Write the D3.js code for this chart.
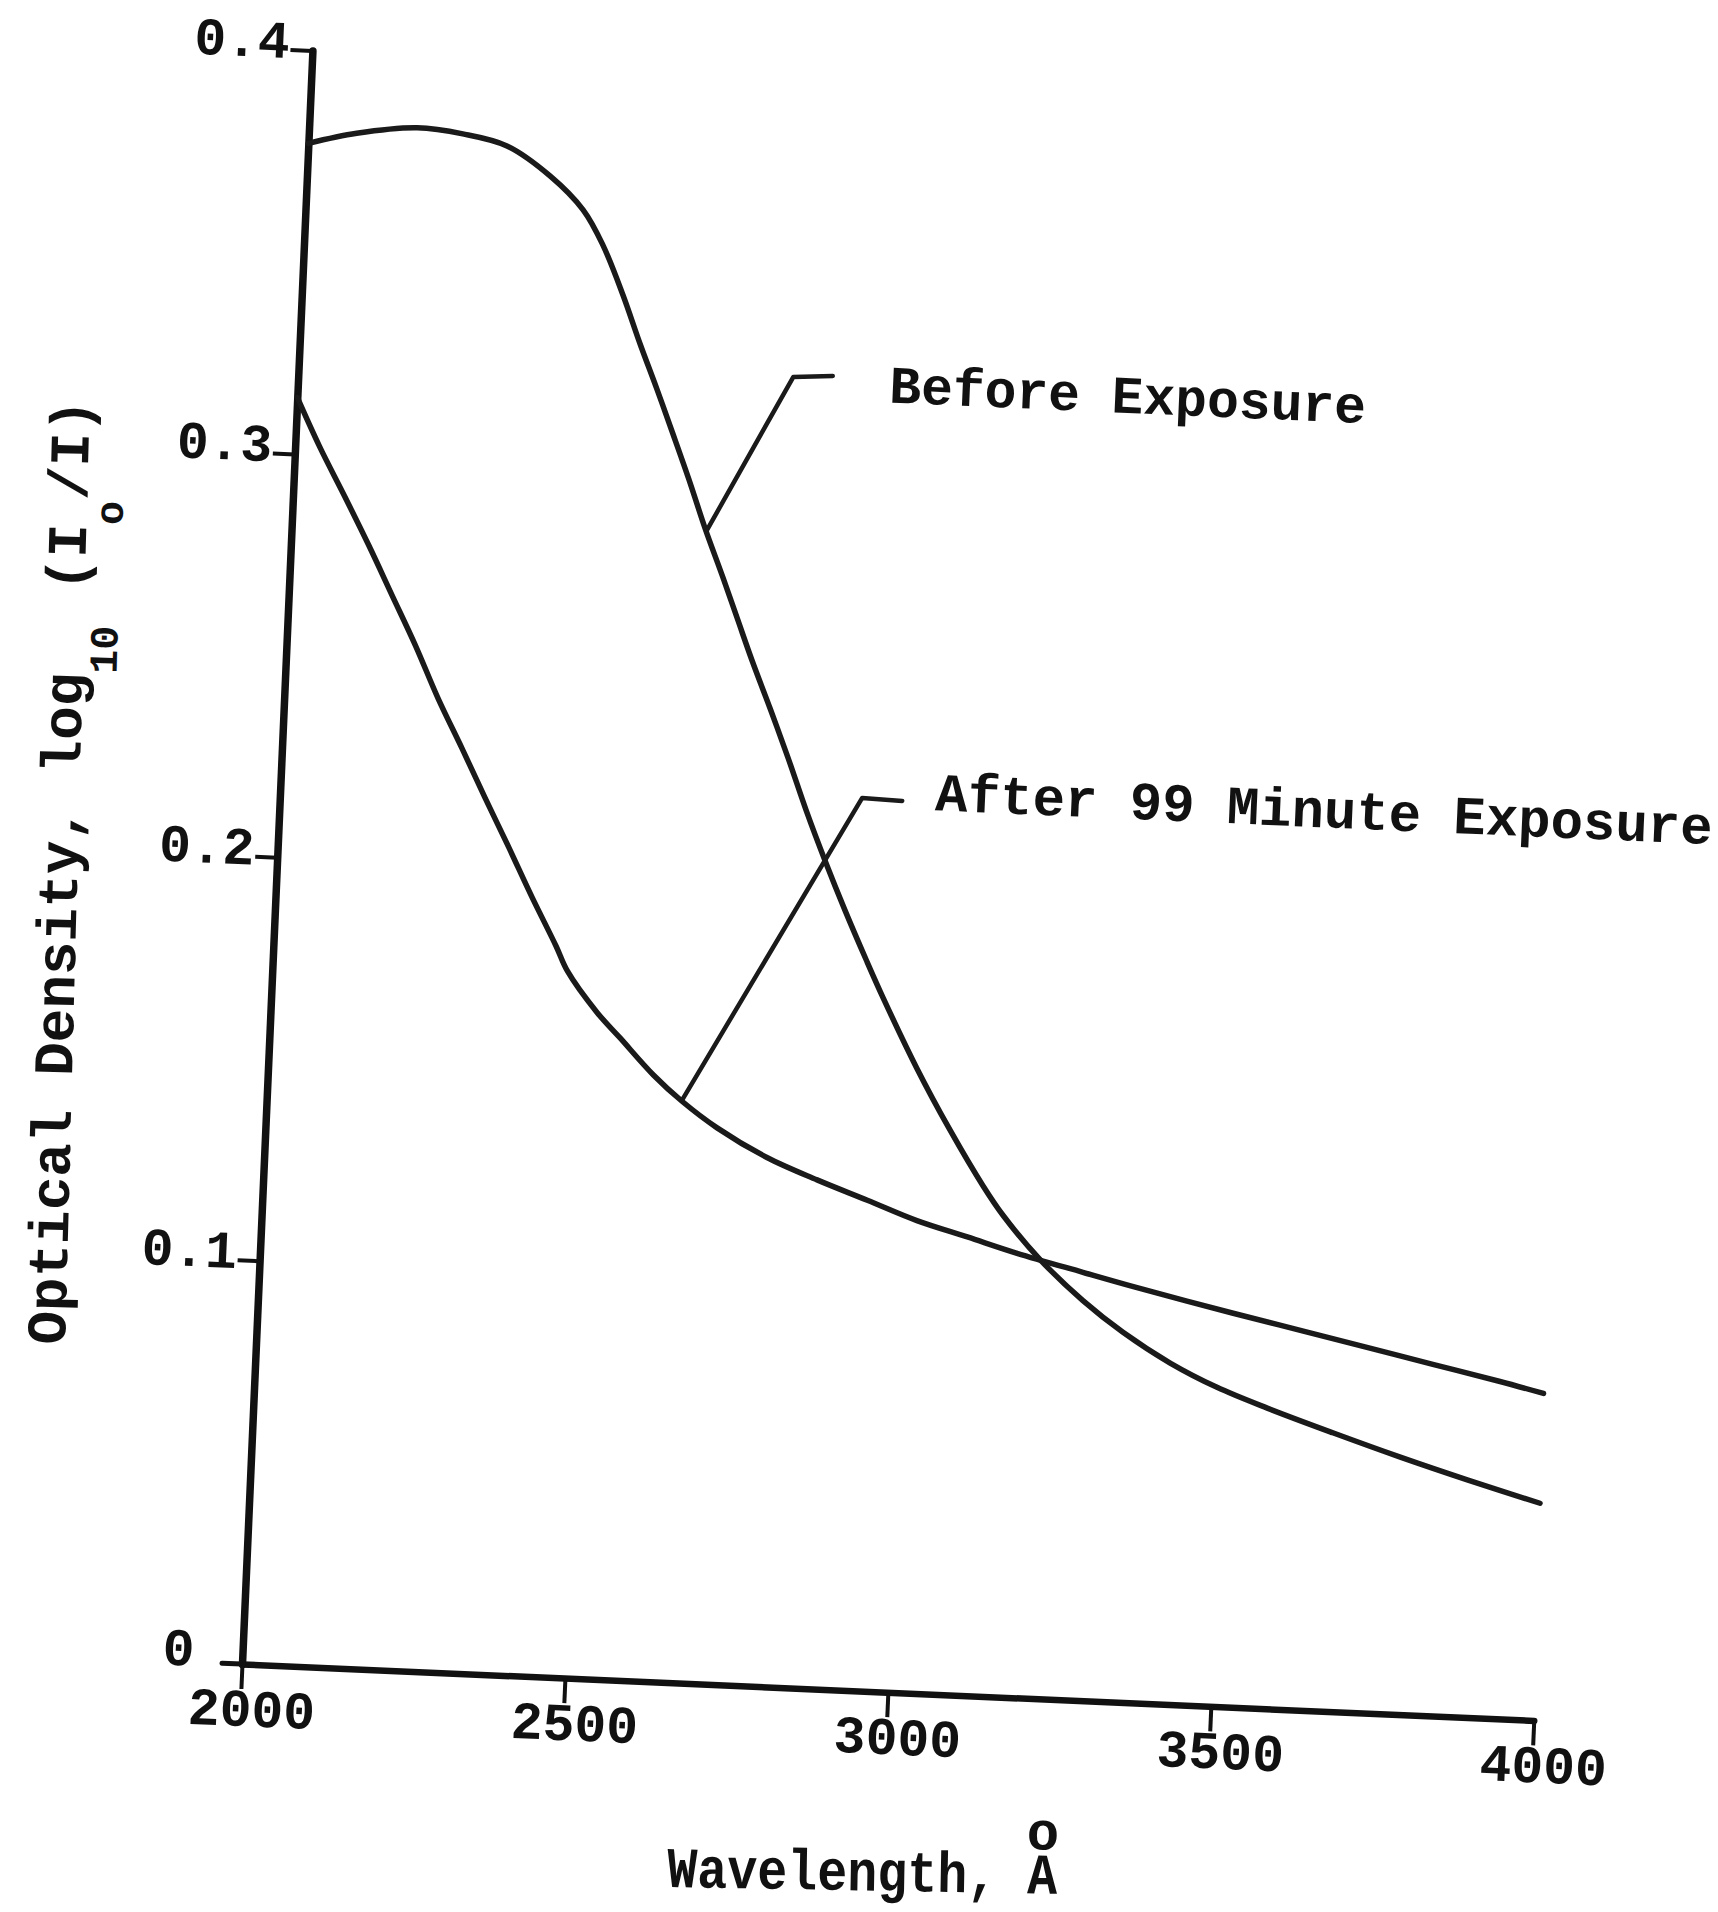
<!DOCTYPE html>
<html><head><meta charset="utf-8">
<script src="https://cdn.jsdelivr.net/npm/d3@7"></script>
<style>html,body{margin:0;padding:0;background:#fff;} svg{display:block;}</style>
</head><body>
<svg id="chart" width="1718" height="1912"></svg>
<script>
// ---- data ----
const wavelengthBefore = [2000, 2074, 2167, 2238, 2307, 2376, 2429, 2462, 2496, 2526, 2555, 2583, 2613, 2639, 2670, 2695, 2720, 2752, 2783, 2815, 2847, 2881, 2917, 2946, 3003, 3058, 3113, 3146, 3206, 3275, 3339, 3414, 3488, 3567, 3670, 3776, 3881, 3995];
const densityBefore = [0.377, 0.380, 0.382, 0.381, 0.3785, 0.3715, 0.3635, 0.355, 0.343, 0.331, 0.320, 0.309, 0.297, 0.286, 0.274, 0.264, 0.254, 0.242, 0.230, 0.217, 0.205, 0.193, 0.181, 0.1717, 0.1546, 0.1398, 0.1263, 0.1192, 0.1087, 0.0990, 0.0916, 0.0845, 0.0790, 0.0744, 0.0690, 0.0637, 0.0588, 0.0538];
const wavelengthAfter = [2000, 2038, 2080, 2121, 2160, 2199, 2238, 2278, 2317, 2357, 2396, 2437, 2456, 2505, 2542, 2596, 2642, 2698, 2777, 2856, 2935, 3013, 3092, 3170, 3273, 3352, 3508, 3613, 3717, 3820, 3925, 3993];
const densityAfter = [0.314, 0.302, 0.290, 0.278, 0.266, 0.254, 0.241, 0.229, 0.217, 0.205, 0.193, 0.181, 0.175, 0.165, 0.159, 0.1502, 0.144, 0.1378, 0.131, 0.126, 0.1215, 0.117, 0.1135, 0.110, 0.106, 0.103, 0.0975, 0.094, 0.0905, 0.087, 0.0835, 0.081];
const xTicks = [2000, 2500, 3000, 3500, 4000];
const xTickLabels = ["2000", "2500", "3000", "3500", "4000"];
const yTicks = [0.1, 0.2, 0.3, 0.4];
const yTickLabels = ["0.1", "0.2", "0.3", "0.4"];
const zeroLabel = "0";
const seriesNames = ["Before Exposure", "After 99 Minute Exposure"];
// leader lines (annotation anchor points, data units)
const leaderBeforeW = [2642, 2765, 2826];
const leaderBeforeD = [0.2856, 0.3244, 0.3251];
const leaderAfterW = [2642, 2900, 2962];
const leaderAfterD = [0.1443, 0.2210, 0.2207];

// ---- drawing ----
const svg = d3.select('#chart');
const W = 1718, H = 1912;
svg.append('rect').attr('width', W).attr('height', H).attr('fill', '#fff');
const FONT = "'Liberation Mono','DejaVu Sans Mono',monospace";
const INK = '#111';

const x = d3.scaleLinear().domain([2000, 4000]).range([0, 1293]);
const y = d3.scaleLinear().domain([0, 0.4]).range([0, -1615]);

// the scanned page is tilted ~2.5 degrees
const g = svg.append('g').attr('transform', 'translate(242,1664) rotate(2.5)');

// x axis
const xAxis = d3.axisBottom(x).tickValues(xTicks).tickSize(25).tickSizeOuter(0)
  .tickFormat((d, i) => xTickLabels[i]);
const gx = g.append('g').call(xAxis);
gx.select('.domain').attr('stroke', INK).attr('stroke-width', 6.5).attr('stroke-linecap', 'round');
gx.selectAll('.tick line').attr('stroke', INK).attr('stroke-width', 4);
gx.selectAll('.tick text').attr('y', 62).attr('dy', null).attr('x', 11)
  .attr('font-family', FONT).attr('font-weight', 'bold').attr('font-size', 53).attr('fill', INK);
g.append('line').attr('x1', -20).attr('x2', 0).attr('y1', 0).attr('y2', 0)
  .attr('stroke', INK).attr('stroke-width', 5).attr('stroke-linecap', 'round');

// y axis
const yAxis = d3.axisLeft(y).tickValues(yTicks).tickSize(22).tickSizeOuter(0)
  .tickFormat((d, i) => yTickLabels[i]);
const gy = g.append('g').call(yAxis);
gy.select('.domain').attr('stroke', INK).attr('stroke-width', 7.5).attr('stroke-linecap', 'round');
gy.selectAll('.tick line').attr('stroke', INK).attr('stroke-width', 4);
gy.selectAll('.tick text').attr('x', -23).attr('dy', null).attr('y', 8)
  .attr('font-family', FONT).attr('font-weight', 'bold').attr('font-size', 53).attr('fill', INK);
g.append('text').attr('x', -48).attr('y', y(0) + 4).attr('text-anchor', 'end')
  .attr('font-family', FONT).attr('font-weight', 'bold').attr('font-size', 53).attr('fill', INK)
  .text(zeroLabel);

// curves
const line = d3.line().x(d => x(d[0])).y(d => y(d[1])).curve(d3.curveCatmullRom.alpha(0.5));
const before = wavelengthBefore.map((w, i) => [w, densityBefore[i]]);
const after = wavelengthAfter.map((w, i) => [w, densityAfter[i]]);
[before, after].forEach(s => {
  g.append('path').attr('d', line(s)).attr('fill', 'none')
    .attr('stroke', '#1a1a1a').attr('stroke-width', 5.5)
    .attr('stroke-linecap', 'round').attr('stroke-linejoin', 'round');
});

// leaders
const lline = d3.line().x(d => x(d[0])).y(d => y(d[1]));
[[leaderBeforeW, leaderBeforeD], [leaderAfterW, leaderAfterD]].forEach(([ws, ds]) => {
  g.append('path').attr('d', lline(ws.map((w, i) => [w, ds[i]]))).attr('fill', 'none')
    .attr('stroke', '#1a1a1a').attr('stroke-width', 4.5)
    .attr('stroke-linecap', 'round').attr('stroke-linejoin', 'round');
});

// series labels
g.append('text').attr('x', x(leaderBeforeW[2]) + 57).attr('y', y(leaderBeforeD[2]) + 24)
  .attr('font-family', FONT).attr('font-weight', 'bold').attr('font-size', 53).attr('fill', INK)
  .text(seriesNames[0]);
g.append('text').attr('x', x(leaderAfterW[2]) + 33).attr('y', y(leaderAfterD[2]) + 8)
  .attr('font-family', FONT).attr('font-weight', 'bold').attr('font-size', 54).attr('fill', INK)
  .text(seriesNames[1]);

// x axis title
const xt = svg.append('g').attr('transform', 'translate(667,1887) rotate(1)');
xt.append('text').attr('transform', 'scale(1,1.15)')
  .attr('font-family', FONT).attr('font-weight', 'bold').attr('font-size', 50).attr('fill', INK)
  .text('Wavelength, A');
xt.append('text').attr('x', 12.5 * 0.6 * 50).attr('y', -44).attr('text-anchor', 'middle')
  .attr('font-family', FONT).attr('font-weight', 'bold').attr('font-size', 54).attr('fill', INK)
  .text('o');

// y axis title
const yt = svg.append('text').attr('transform', 'translate(65,1345) rotate(-88.5)')
  .attr('font-family', FONT).attr('font-weight', 'bold').attr('font-size', 56).attr('fill', INK);
yt.append('tspan').text('Optical Density, log');
yt.append('tspan').attr('font-size', 40).attr('dy', 34).text('10');
yt.append('tspan').attr('dy', -34).text(' (I');
yt.append('tspan').attr('font-size', 40).attr('dy', 36).text('o');
yt.append('tspan').attr('dy', -36).text('/I)');
</script>
</body></html>
